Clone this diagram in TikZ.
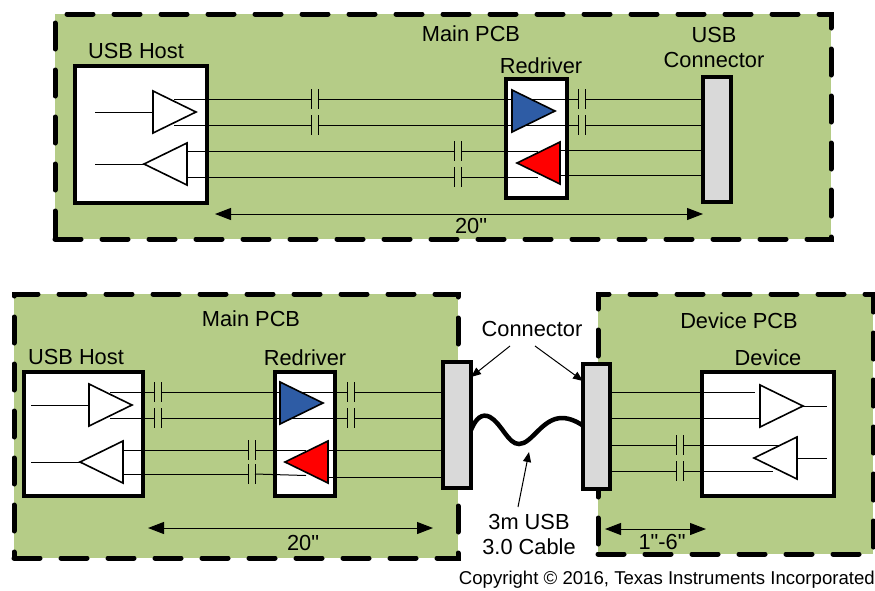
\documentclass[tikz,border=0pt]{standalone}
\usepackage{fontspec}
\newfontfamily\labfont{Liberation Sans}
\usetikzlibrary{arrows.meta,shapes.geometric}
\definecolor{pcbgreen}{RGB}{181,204,135}
\definecolor{conngray}{RGB}{217,217,217}
\definecolor{ampblue}{RGB}{46,92,165}

\begin{document}
\begin{tikzpicture}[
  x=1pt, y=-1pt,
  font=\labfont\fontsize{21.8}{25}\selectfont,
  pcb/.style={draw, fill=pcbgreen, line width=5pt, line cap=round, dash pattern=on 26pt off 21pt, inner sep=0pt, outer sep=0pt},
  chip/.style={draw, fill=#1, line width=4pt, inner sep=0pt, outer sep=0pt},
  chip/.default=white,
  amp/.style={isosceles triangle, isosceles triangle stretches, draw, fill=#1, line width=1.6pt, minimum width=42pt, minimum height=43pt, inner sep=0pt, outer sep=0pt, anchor=apex},
  amp/.default=white,
  ampleft/.style={amp=#1, shape border rotate=180},
  ampleft/.default=white,
  capa/.style={minimum width=7pt, minimum height=20pt, inner sep=0pt, outer sep=0pt,
    append after command={(\tikzlastnode.north west) edge[wire] (\tikzlastnode.south west)
      (\tikzlastnode.north east) edge[wire] (\tikzlastnode.south east)}},
  wire/.style={line width=1pt},
  dim/.style={line width=1pt, {Triangle[length=16pt,width=12pt]}-{Triangle[length=16pt,width=12pt]}},
  call/.style={line width=1pt, -{Triangle[length=10pt,width=8pt]}},
  cable/.style={line width=4.5pt, line cap=round},
  lab/.style={inner sep=0pt, align=center}]
  \useasboundingbox (0,0) rectangle (875,590);

  \node[pcb, minimum width=776pt, minimum height=225pt] (pcbtop) at (443,126.5) {};
  \node[pcb, minimum width=444pt, minimum height=264pt] (pcbmain) at (236,426) {};
  \node[pcb, minimum width=275pt, minimum height=260pt] (pcbdev) at (735.5,424) {};

  \node[chip, minimum width=132pt, minimum height=137pt] (hostA) at (141,134.5) {};
  \node[chip, minimum width=61pt, minimum height=119pt] (drvA) at (536.5,138.5) {};
  \node[chip=conngray, minimum width=28pt, minimum height=125pt] (conTop) at (717,139.5) {};
  \node[chip, minimum width=119pt, minimum height=124pt] (hostB) at (83.5,434) {};
  \node[chip, minimum width=60pt, minimum height=124pt] (drvB) at (305,434) {};
  \node[chip, minimum width=132pt, minimum height=124pt] (devC) at (768,434) {};

  \node[capa] (capA) at (314.5,99) {};
  \node[capa] (capB) at (314.5,125) {};
  \node[capa] (capC) at (457.5,151) {};
  \node[capa] (capD) at (457.5,177) {};
  \node[capa] (capE) at (582,99) {};
  \node[capa] (capF) at (582,125) {};
  \node[capa] (capG) at (157.5,392) {};
  \node[capa] (capH) at (157.5,418) {};
  \node[capa] (capI) at (350.5,392) {};
  \node[capa] (capJ) at (350.5,418) {};
  \node[capa] (capK) at (251.5,450) {};
  \node[capa] (capL) at (251.5,474) {};
  \node[capa] (capM) at (679.5,445) {};
  \node[capa] (capN) at (679.5,471) {};

  \coordinate (inA) at (95,112);
  \coordinate (inB) at (95,164);
  \coordinate (inC) at (31,405);
  \coordinate (inD) at (31,462);
  \coordinate (outE) at (827,406);
  \coordinate (inF) at (827,458);

  \draw[wire] (inA) -- (152,112);
  \draw[wire] (inB) -- (144,164);
  \draw[wire] (174,99) -- (capA.west);
  \draw[wire] (174,125) -- (capB.west);
  \draw[wire] (capA.east) -- (capE.west);
  \draw[wire] (capB.east) -- (capF.west);
  \draw[wire] (capE.east) -- (capE.east -| conTop.west);
  \draw[wire] (capF.east) -- (capF.east -| conTop.west);
  \draw[wire] (187,151) -- (capC.west);
  \draw[wire] (187,177) -- (capD.west);
  \draw[wire] (capC.east) -- (538,151);
  \draw[wire] (capD.east) -- (538,177);
  \draw[wire] (559,150) -- (703,150);
  \draw[wire] (559,175) -- (703,175);

  \draw[wire] (inC) -- (88,405);
  \draw[wire] (inD) -- (80,462);
  \draw[wire] (110,392) -- (capG.west);
  \draw[wire] (110,418) -- (capH.west);
  \draw[wire] (capG.east) -- (capI.west);
  \draw[wire] (capH.east) -- (capJ.west);
  \draw[wire] (capI.east) -- (444,392);
  \draw[wire] (capJ.east) -- (444,418);
  \draw[wire] (123,450) -- (capK.west);
  \draw[wire] (123,474) -- (capL.west);
  \draw[wire] (capK.east) -- (306,450);
  \draw[wire] (capL.east) -- (306,475.5);
  \draw[wire] (328,450) -- (444,450);
  \draw[wire] (328,477) -- (444,477);

  \draw[wire] (610,392) -- (755,392);
  \draw[wire] (610,418) -- (759,418);
  \draw[wire] (610,445) -- (capM.west);
  \draw[wire] (610,471) -- (capN.west);
  \draw[wire] (capM.east) -- (782,445);
  \draw[wire] (capN.east) -- (773,471);
  \draw[wire] (803,406) -- (outE);
  \draw[wire] (794,458) -- (inF);

  \node[amp] (ampA) at (196,112) {};
  \node[ampleft] (ampB) at (144,164) {};
  \node[amp=ampblue] (ampC) at (555,111) {};
  \node[ampleft=red] (ampD) at (517,163) {};
  \node[amp] (ampE) at (132,405) {};
  \node[ampleft] (ampF) at (80,462) {};
  \node[amp=ampblue] (ampG) at (323,403) {};
  \node[ampleft=red] (ampH) at (285,462) {};
  \node[amp] (ampI) at (803,406) {};
  \node[ampleft] (ampJ) at (754,458) {};

  \draw[cable] (471,430) .. controls (476,418) and (482,413) .. (490,417) .. controls (502,424) and (508,444) .. (519,444) .. controls (532,444) and (542,418) .. (562,418) .. controls (570,418) and (578,422) .. (585,427);

  \node[chip=conngray, minimum width=28pt, minimum height=126pt] (conA) at (457,425) {};
  \node[chip=conngray, minimum width=27pt, minimum height=125pt] (conB) at (596.5,426.5) {};

  \node[lab] (titleA) at (471,34) {Main PCB};
  \node[lab] (titleB) at (136,51) {USB Host};
  \node[lab] (titleC) at (541,66) {Redriver};
  \node[lab] (titleD) at (714,47.5) {USB\\Connector};
  \node[lab] (lenA) at (471,226) {20"};
  \node[lab] (titleE) at (251,319) {Main PCB};
  \node[lab] (titleF) at (76,357) {USB Host};
  \node[lab] (titleG) at (305,358) {Redriver};
  \node[lab] (lenB) at (303,543) {20"};
  \node[lab] (titleH) at (739,321) {Device PCB};
  \node[lab] (titleI) at (768,358) {Device};
  \node[lab] (lenC) at (662,542) {1"-6"};
  \node[lab] (conLab) at (532,329) {Connector};
  \node[lab] (cableLab) at (529,534) {3m USB\\3.0 Cable};
  \node[lab, font=\labfont\fontsize{18.6}{22}\selectfont, anchor=east] (copyLab) at (875,580) {Copyright © 2016, Texas Instruments Incorporated};

  \coordinate (dimAl) at (215,214);
  \coordinate (dimAr) at (703,214);
  \coordinate (dimBl) at (148,528);
  \coordinate (dimBr) at (433,528);
  \coordinate (dimCl) at (605,529);
  \coordinate (dimCr) at (706,529);
  \draw[dim] (dimAl) -- (dimAr);
  \draw[dim] (dimBl) -- (dimBr);
  \draw[dim] (dimCl) -- (dimCr);

  \coordinate (callA) at (510,346);
  \coordinate (callB) at (535,346);
  \coordinate (callC) at (518,507);
  \draw[call] (callA) -- (conA.east |- 0,377);
  \draw[call] (callB) -- (conB.west |- 0,381);
  \draw[call] (callC) -- (529,452);
\end{tikzpicture}
\end{document}
